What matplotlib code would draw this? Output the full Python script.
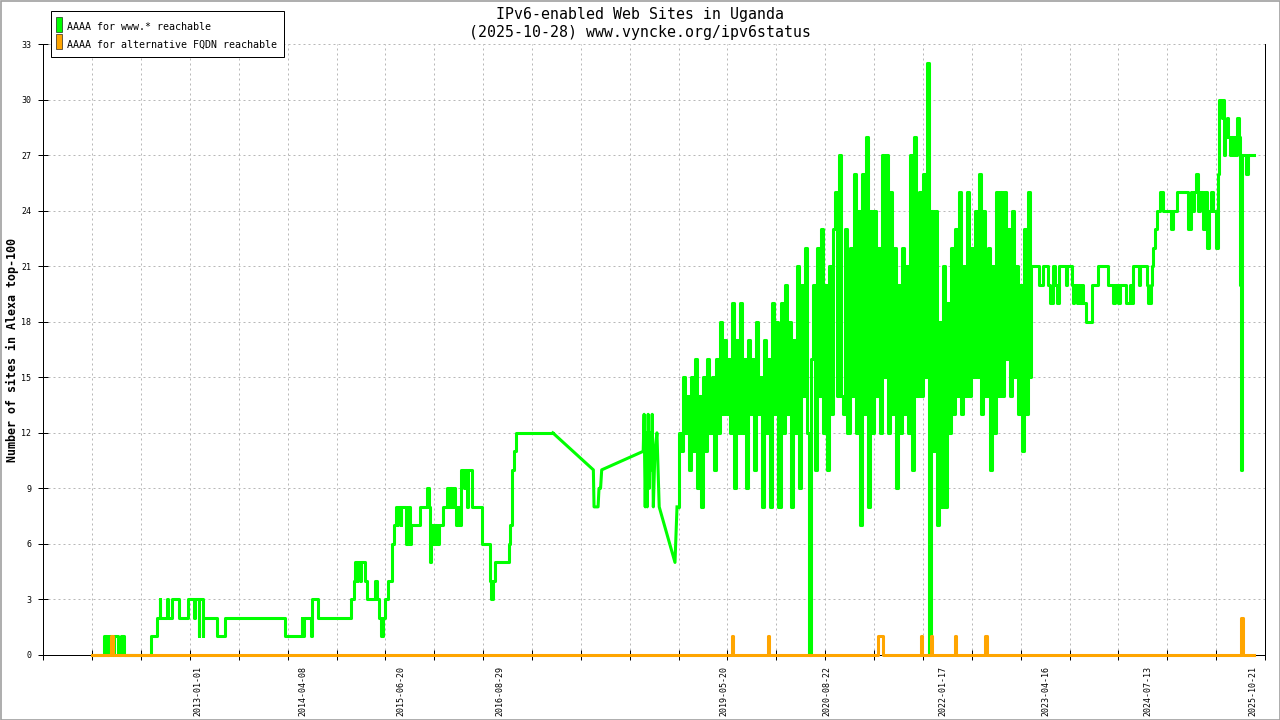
import numpy as np
import pandas as pd
import matplotlib
matplotlib.use('Agg')
from matplotlib import pyplot as plt
from matplotlib import dates as mdates
from matplotlib.patches import Rectangle

plt.rcParams['font.family'] = ['DejaVu Sans Mono']

base_date = pd.Timestamp('2013-01-01')

# AAAA for www.* reachable -- day offsets from base_date, value changes (steps)
www_early_days = [-471, -420, -407, -398, -385, -376, -358, -343, -330, -210, -184, -172, -168, -139,
                  -134, -117, -86, -44, -19, -15, 1, 5, 19, 23, 83, 118, 384, 458, 462, 467, 500, 506,
                  533, 679, 690, 695, 702, 706, 717, 722, 739, 748, 784, 792, 801, 810, 819, 826, 841,
                  857, 866, 877, 881, 886, 897, 901, 923, 928, 941, 945, 981, 1014, 1021, 1028, 1034,
                  1041, 1050, 1059, 1067, 1085, 1103, 1110, 1116, 1125, 1134, 1138, 1145, 1152, 1161,
                  1167, 1178, 1183, 1192, 1198, 1212, 1256, 1294, 1300, 1309, 1316, 1376, 1384, 1391,
                  1393, 1400, 1411, 1572]
www_early_vals = [0, 1, 0, 1, 0, 1, 0, 1, 0, 1, 2, 3, 2, 3, 2, 3, 2, 3, 2, 3, 1, 3, 1, 2, 1, 2, 1, 2,
                  1, 2, 1, 3, 2, 3, 4, 5, 4, 5, 4, 5, 4, 3, 4, 3, 2, 1, 2, 3, 4, 6, 7, 8, 7, 8, 7, 8,
                  6, 8, 6, 7, 8, 9, 8, 5, 7, 6, 7, 6, 7, 8, 9, 8, 9, 8, 9, 8, 7, 8, 7, 10, 9, 10, 8,
                  10, 8, 6, 4, 3, 4, 5, 6, 7, 8, 10, 11, 12, 12]

# sparse measurements 2017-2018 (drawn as plain line)
www_gap_days = [1572, 1752, 1755, 1773, 1777, 1784, 1789, 1973, 1977, 1982, 1986, 1991, 1995, 2000,
                2004, 2009, 2013, 2018, 2025, 2034, 2044, 2114, 2123]
www_gap_vals = [12, 10, 8, 8, 9, 9, 10, 11, 13, 8, 12, 8, 13, 9, 12, 10, 13, 8, 11, 12, 8, 5, 8]

# noisy period 2018-10 .. 2023-02, one reading every 9 days
www_dense_start = 2123
www_dense_step = 9
www_dense_vals = [8, 12, 11, 15, 12, 14, 10, 15, 11, 16, 9, 14,
                  8, 15, 11, 16, 12, 15, 10, 16, 12, 18, 13, 17, 13, 16, 12, 19, 9, 17, 12, 19,
                  12, 16, 9, 17, 13, 16, 10, 18, 13, 15, 8, 17, 12, 16, 8, 19, 13, 18, 8, 19,
                  12, 20, 13, 18, 8, 17, 12, 21, 9, 20,
                  14, 22, 12, 0, 16, 20, 10, 22, 14, 23, 12, 20, 10, 21, 13, 23, 25, 14, 27, 14,
                  13, 23, 12, 22, 14, 26, 12, 24, 7, 26, 13, 28, 8, 24, 12, 24, 14, 22, 12, 27,
                  15, 27, 12, 25, 13, 22, 9, 20, 12, 22, 13, 21, 12, 27, 10, 28, 14, 25, 14, 26,
                  15, 32, 0,
                  24, 11, 24, 7, 18, 8, 21, 8, 19, 12, 22, 13, 23, 14, 25, 13, 21, 14, 25, 14,
                  22, 15, 24, 15, 26, 13, 24, 14, 22, 10, 21, 12, 25, 14, 25, 14, 25, 16, 23, 14,
                  24, 15, 21, 13, 20, 11, 23, 13, 25, 15]

www_late_days = [3691, 3730, 3747, 3769, 3777, 3789, 3799, 3808, 3818, 3848, 3852, 3873, 3877, 3883,
                 3897, 3901, 3910, 3919, 3925, 3935, 3962, 3991, 4036, 4058, 4065, 4080, 4087, 4114,
                 4132, 4141, 4146, 4172, 4178, 4206, 4212, 4225, 4229, 4235, 4243, 4252, 4265, 4280,
                 4314, 4324, 4340, 4390, 4401, 4407, 4416, 4424, 4433, 4442, 4454, 4464, 4473, 4482,
                 4491, 4501, 4513, 4522, 4525, 4528, 4540, 4544, 4549, 4553, 4561, 4568, 4575, 4582,
                 4589, 4595, 4602, 4608, 4617, 4619, 4622, 4625, 4630, 4645, 4654, 4683]
www_late_vals = [21, 20, 21, 20, 19, 21, 20, 19, 21, 20, 21, 20, 19, 20, 19, 20, 19, 20, 19, 18,
                 20, 21, 20, 19, 20, 19, 20, 19, 20, 19, 21, 20, 21, 20, 19, 20, 21, 22, 23, 24,
                 25, 24, 23, 24, 25, 23, 25, 24, 25, 26, 24, 25, 23, 25, 22, 24, 25, 24, 22, 26,
                 29, 30, 29, 30, 27, 28, 29, 28, 27, 28, 27, 28, 27, 29, 28, 20, 11, 10, 27, 26,
                 27, 27]

# AAAA for alternative FQDN reachable
fqdn_days = [-471, -387, -378, 2366, 2370, 2528, 2532, 3016, 3038, 3205, 3210, 3248, 3253, 3354,
             3359, 3491, 3496, 4626, 4631, 4683]
fqdn_vals = [0, 1, 0, 1, 0, 1, 0, 1, 0, 1, 0, 1, 0, 1, 0, 1, 0, 2, 0, 0]

label_dates = ['2013-01-01', '2014-04-08', '2015-06-20', '2016-08-29', '2019-05-20',
               '2020-08-22', '2022-01-17', '2023-04-16', '2024-07-13', '2025-10-21']
y_ticks = list(range(0, 34, 3))


def to_dates(days):
    return base_date + pd.to_timedelta(days, unit='D')


green = '#00ff00'
orange = '#ffa500'
W, H = 1280, 720

fig = plt.figure(figsize=(12.8, 7.2), dpi=100)
ax = fig.add_axes([43.3 / W, 1 - 655 / H, (1265 - 43.3) / W, (655 - 44) / H])

dense_dates = pd.date_range(base_date + pd.Timedelta(days=www_dense_start),
                            periods=len(www_dense_vals), freq=f'{www_dense_step}D')
late_dates = dense_dates.append(to_dates(www_late_days))
late_vals = www_dense_vals + www_late_vals

ax.plot(to_dates(www_early_days), www_early_vals, drawstyle='steps-post', color=green,
        lw=2.2, zorder=3, clip_on=False)
ax.plot(to_dates(www_gap_days), www_gap_vals, color=green, lw=2.2, zorder=3, clip_on=False)
ax.plot(late_dates, late_vals, drawstyle='steps-post', color=green, lw=2.2, zorder=3, clip_on=False)
ax.plot(to_dates(fqdn_days), fqdn_vals, drawstyle='steps-post', color=orange, lw=2.2, zorder=4,
        clip_on=False)

x_left = base_date - pd.Timedelta(days=687.4)
x_right = base_date + pd.Timedelta(days=4730.6)
ax.set_xlim(x_left, x_right)
ax.set_ylim(0, 33)

lo, hi = mdates.date2num(x_left), mdates.date2num(x_right)
ax.set_xticks(np.linspace(lo, hi, 26))
ax.xaxis.set_major_formatter(plt.NullFormatter())
ax.set_xticks(mdates.date2num(pd.to_datetime(label_dates)), minor=True)
ax.set_xticklabels(label_dates, minor=True, rotation=90, fontsize=6)
ax.set_yticks(y_ticks)
ax.set_yticklabels([str(v) for v in y_ticks], fontsize=6)

ax.tick_params(axis='both', which='major', direction='inout', length=7.2, width=0.72, pad=5)
ax.tick_params(axis='x', which='minor', direction='out', length=0, pad=8)
ax.tick_params(axis='y', which='both', right=False)

ax.grid(True, which='major', color='#b8b8b8', lw=0.72, linestyle=(0, (2, 3)))
ax.set_axisbelow(True)
for side in ['left', 'right', 'bottom']:
    ax.spines[side].set_linewidth(0.72)
    ax.spines[side].set_color('black')
ax.spines['top'].set_visible(False)

# titles
fig.text(640 / W, 1 - 18.5 / H, 'IPv6-enabled Web Sites in Uganda', ha='center',
         va='baseline', fontsize=10.7)
fig.text(640 / W, 1 - 37.5 / H, '(2025-10-28) www.vyncke.org/ipv6status', ha='center',
         va='baseline', fontsize=10.7)
fig.text(12 / W, 1 - 350 / H, 'Number of sites in Alexa top-100', rotation=90, ha='center',
         va='center', fontsize=8.4, fontweight='bold')

# legend
fig.add_artist(Rectangle((51 / W, 1 - 57 / H), 233 / W, 46 / H, transform=fig.transFigure,
                         facecolor='white', edgecolor='black', lw=0.72, zorder=5))
fig.add_artist(Rectangle((56 / W, 1 - 32 / H), 6 / W, 15 / H, transform=fig.transFigure,
                         facecolor=green, edgecolor='black', lw=0.4, zorder=6))
fig.add_artist(Rectangle((56 / W, 1 - 49.3 / H), 6 / W, 15 / H, transform=fig.transFigure,
                         facecolor=orange, edgecolor='black', lw=0.4, zorder=6))
fig.text(67 / W, 1 - 30.5 / H, 'AAAA for www.* reachable', fontsize=7.2, va='baseline', zorder=7)
fig.text(67 / W, 1 - 48 / H, 'AAAA for alternative FQDN reachable', fontsize=7.2, va='baseline',
         zorder=7)

# outer frame
fig.add_artist(Rectangle((0.5 / W, 0.5 / H), 1 - 1 / W, 1 - 1 / H, transform=fig.transFigure,
                         fill=False, edgecolor='#a0a0a0', lw=1.2))

fig.savefig('out.png', dpi=100)
